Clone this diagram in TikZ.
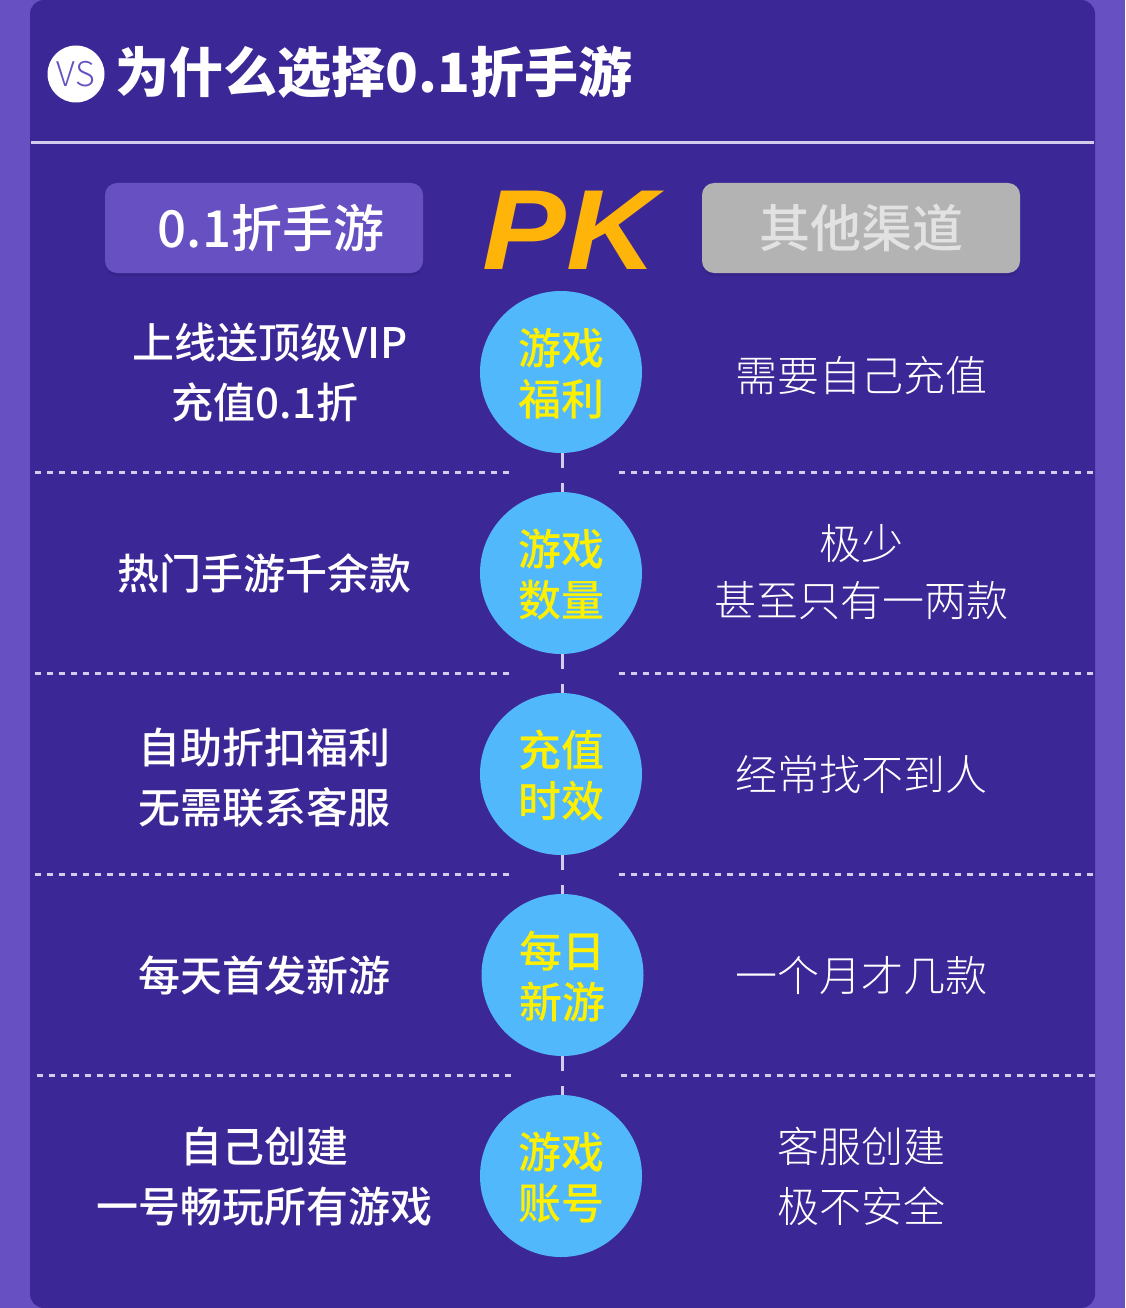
\documentclass[tikz,border=0pt]{standalone}
\usepackage{fontspec}
\usetikzlibrary{shadows}
\setmainfont{Noto Sans CJK SC}
\newfontfamily\lightcjk{Noto Sans CJK SC Light}
\newfontfamily\mediumcjk{Noto Sans CJK SC Medium}
\newfontfamily\pkfont[BoldFont=Liberation Sans Bold,BoldItalicFont=Liberation Sans Bold Italic]{Liberation Sans}
\definecolor{pagepurple}{HTML}{6750C2}
\definecolor{panelpurple}{HTML}{3C2796}
\definecolor{linelilac}{HTML}{D3CCEC}
\definecolor{circleblue}{HTML}{52B8FC}
\definecolor{circleyellow}{HTML}{FFF000}
\definecolor{pkorange}{HTML}{FFB40A}
\definecolor{boxgrey}{HTML}{B3B3B3}
\definecolor{greytext}{HTML}{E2E2E2}
\newcommand{\topicpair}[2]{\raisebox{-2pt}[\height][\depth]{#1}\\\raisebox{-2pt}[\height][\depth]{#2}}
\tikzset{
  headbox/.style={rounded corners=12pt,minimum width=318pt,minimum height=90pt,inner sep=0pt,
    drop shadow={shadow xshift=0pt,shadow yshift=-3pt,fill=black,opacity=0.07}},
  topic/.style={circle,fill=circleblue,minimum size=162pt,inner sep=0pt,align=center,text=circleyellow,
    font=\fontsize{43}{51}\selectfont\mediumcjk},
  lefttext/.style={align=center,text=white,font=\fontsize{42}{60}\selectfont\mediumcjk},
  righttext/.style={align=center,text=white,font=\fontsize{42}{60}\selectfont\lightcjk},
  rowrule/.style={linelilac,line width=3pt,dash pattern=on 6pt off 6pt},
  linkrule/.style={linelilac,line width=3pt,dash pattern=on 15pt off 15pt}
}

\begin{document}
\begin{tikzpicture}[x=1pt,y=-1pt]

\fill[pagepurple] (0,0) rectangle (1125,1308); % Page
\useasboundingbox (0,0) rectangle (1125,1308);
\fill[panelpurple,rounded corners=14pt] (30,0) rectangle (1095,1308);

\node [circle,fill=white,minimum size=57pt,inner sep=0pt,text=pagepurple,font=\fontsize{34}{34}\selectfont\lightcjk] (vs) at (76,74) {VS};
\node [text=white,font=\fontsize{54}{54}\selectfont\bfseries,inner sep=0pt] (title) at (374,72) {为什么选择0.1折手游};
\draw[linelilac,line width=3pt] (31,143) -- (1094,143); % Header rule

\node [headbox,fill=pagepurple,text=white,font=\fontsize{51}{51}\selectfont\mediumcjk] (ours) at (264,228) {\hspace*{14pt}0.1折手游};
\node [headbox,fill=boxgrey,text=greytext,font=\fontsize{51}{51}\selectfont\mediumcjk] (others) at (861,228) {其他渠道};
\node [text=pkorange,inner sep=0pt] (pk) at (570,230) {\scalebox{1.1}[1]{\fontsize{114}{114}\pkfont\bfseries\itshape PK}};

% Circles down the middle
\node [topic] (c1) at (561,372) {\topicpair{游戏}{福利}};
\node [topic] (c2) at (561,573) {\topicpair{游戏}{数量}};
\node [topic] (c3) at (561,774) {\topicpair{充值}{时效}};
\node [topic] (c4) at (562.5,975) {\topicpair{每日}{新游}};
\node [topic] (c5) at (561,1176) {\topicpair{游戏}{账号}};

\foreach \a/\b in {1/2, 2/3, 3/4, 4/5}{
    \draw[linkrule] (562,0 |- c\a.south) -- (562,0 |- c\b.north);
}
\foreach \y/\s in {472/0, 673/0, 874/0, 1075/1.5}{
    \draw[rowrule] (35+\s,\y) -- (509+\s,\y);
    \draw[rowrule] (619+\s,\y) -- (1094+\s,\y);
}

% Left column
\node [lefttext] (l1) at (270,373) {上线送顶级VIP\\\hspace*{-10pt}充值0.1折};
\node [lefttext] (l2) at (264,573) {热门手游千余款};
\node [lefttext] (l3) at (264,778) {自助折扣福利\\无需联系客服};
\node [lefttext] (l4) at (264,975) {每天首发新游};
\node [lefttext] (l5) at (264,1177) {自己创建\\一号畅玩所有游戏};

% Right column
\node [righttext] (r1) at (861,376) {需要自己充值};
\node [righttext] (r2) at (861,572) {极少\\[-3pt]甚至只有一两款};
\node [righttext] (r3) at (861,775) {经常找不到人};
\node [righttext] (r4) at (861,976) {一个月才几款};
\node [righttext] (r5) at (861,1176) {客服创建\\极不安全};

\end{tikzpicture}
\end{document}
